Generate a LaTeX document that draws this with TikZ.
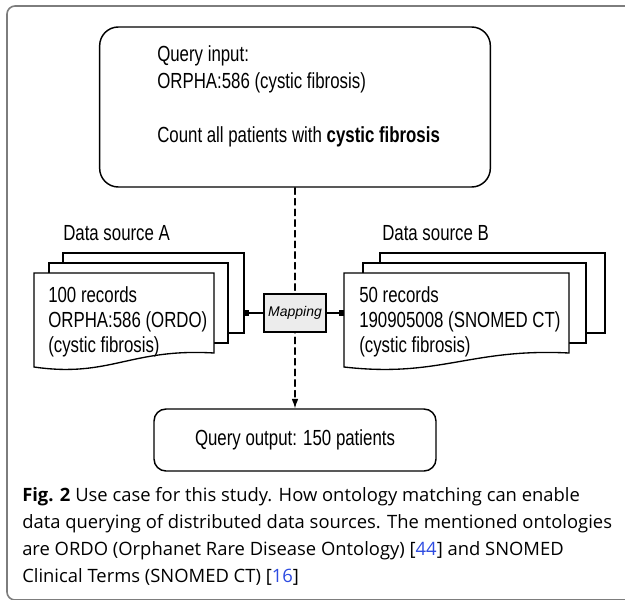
\documentclass[tikz,border=0pt]{standalone}
\usepackage{fontspec}
\setmainfont{Liberation Sans}
\newfontfamily\diagfont[FakeStretch=0.77]{Liberation Sans}
\newfontfamily\capfont{Open Sans}
\usepackage{xcolor}
\definecolor{citeblue}{RGB}{45,75,225}
\definecolor{framegray}{RGB}{125,125,125}
\usetikzlibrary{arrows.meta}

\begin{document}
\begin{tikzpicture}[x=0.75pt, y=-0.75pt, line cap=round,
    qbox/.style={draw, line width=1.1pt, rounded corners=#1},
    docpage/.style={draw, fill=white, line width=1pt},
    txt/.style={anchor=west, align=left, inner sep=0pt, font=\diagfont\fontsize{16.4}{18.75}\selectfont},
    link/.style={line width=1pt}]
  \useasboundingbox (0,0) rectangle (625,600);
  \draw[framegray, line width=1.2pt, rounded corners=6pt] (7,600) -- (7,6) -- (640,6) -- (640,600) -- cycle;

  % query in / out
  \node[qbox=14pt, minimum width=293pt, minimum height=120pt] (input) at (295,107) {};
  \node[txt, font=\diagfont\fontsize{16.4}{20.25}\selectfont] (inputtxt) at (157,96)
    {Query input:\\ORPHA:586 (cystic fibrosis)\\[20.25pt]Count all patients with \textbf{cystic fibrosis}};
  \node[qbox=9pt, minimum width=211.5pt, minimum height=46.5pt, font=\diagfont\fontsize{16.4}{18.75}\selectfont] (output) at (295,440) {Query output: 150 patients};
  \draw[line width=0.8pt, dash pattern=on 5pt off 3pt, -{Latex[length=7pt,width=5pt]}] (input.south) -- (output.north);

  % data source A
  \node[txt] (srcA) at (63,233) {Data source A};
  \draw[docpage] (63,253) rectangle (244,333);
  \draw[docpage] (49,263) rectangle (228,343);
  \draw[docpage] (34,273) -- (214,273) -- (214,353) .. controls (130,348) and (110,378) .. (34,367) -- cycle;
  \node[txt] (recA) at (48,322) {100 records\\ORPHA:586 (ORDO)\\(cystic fibrosis)};
  \coordinate (aout) at (244,313);

  % data source B
  \node[txt] (srcB) at (382,233) {Data source B};
  \draw[docpage] (380,253) rectangle (605,333);
  \draw[docpage] (363,263) rectangle (586,343);
  \draw[docpage] (344,273) -- (569,273) -- (569,353) .. controls (470,348) and (440,378) .. (344,367) -- cycle;
  \node[txt] (recB) at (359,322) {50 records\\190905008 (SNOMED CT)\\(cystic fibrosis)};
  \coordinate (bin) at (344,313);

  % mapping
  \node[draw, fill=gray!15, line width=1pt, minimum width=46.5pt, minimum height=28.5pt, inner sep=0pt,
    font=\itshape\fontsize{10.5}{12}\selectfont] (map) at (295,313) {Mapping};
  \draw[link, {Square[length=4pt,width=4pt]}-] (aout) -- (map);
  \draw[link, -{Square[length=4pt,width=4pt]}] (map) -- (bin);

  % caption
  \node[anchor=north west, align=left, inner sep=0pt, font=\capfont\fontsize{13.8}{20.25}\selectfont] (caption) at (22,487)
    {\textbf{Fig. 2} Use case for this study. How ontology matching can enable\\
     data querying of distributed data sources. The mentioned ontologies\\
     are ORDO (Orphanet Rare Disease Ontology) [\textcolor{citeblue}{44}] and SNOMED\\
     Clinical Terms (SNOMED CT) [\textcolor{citeblue}{16}]};
\end{tikzpicture}
\end{document}
